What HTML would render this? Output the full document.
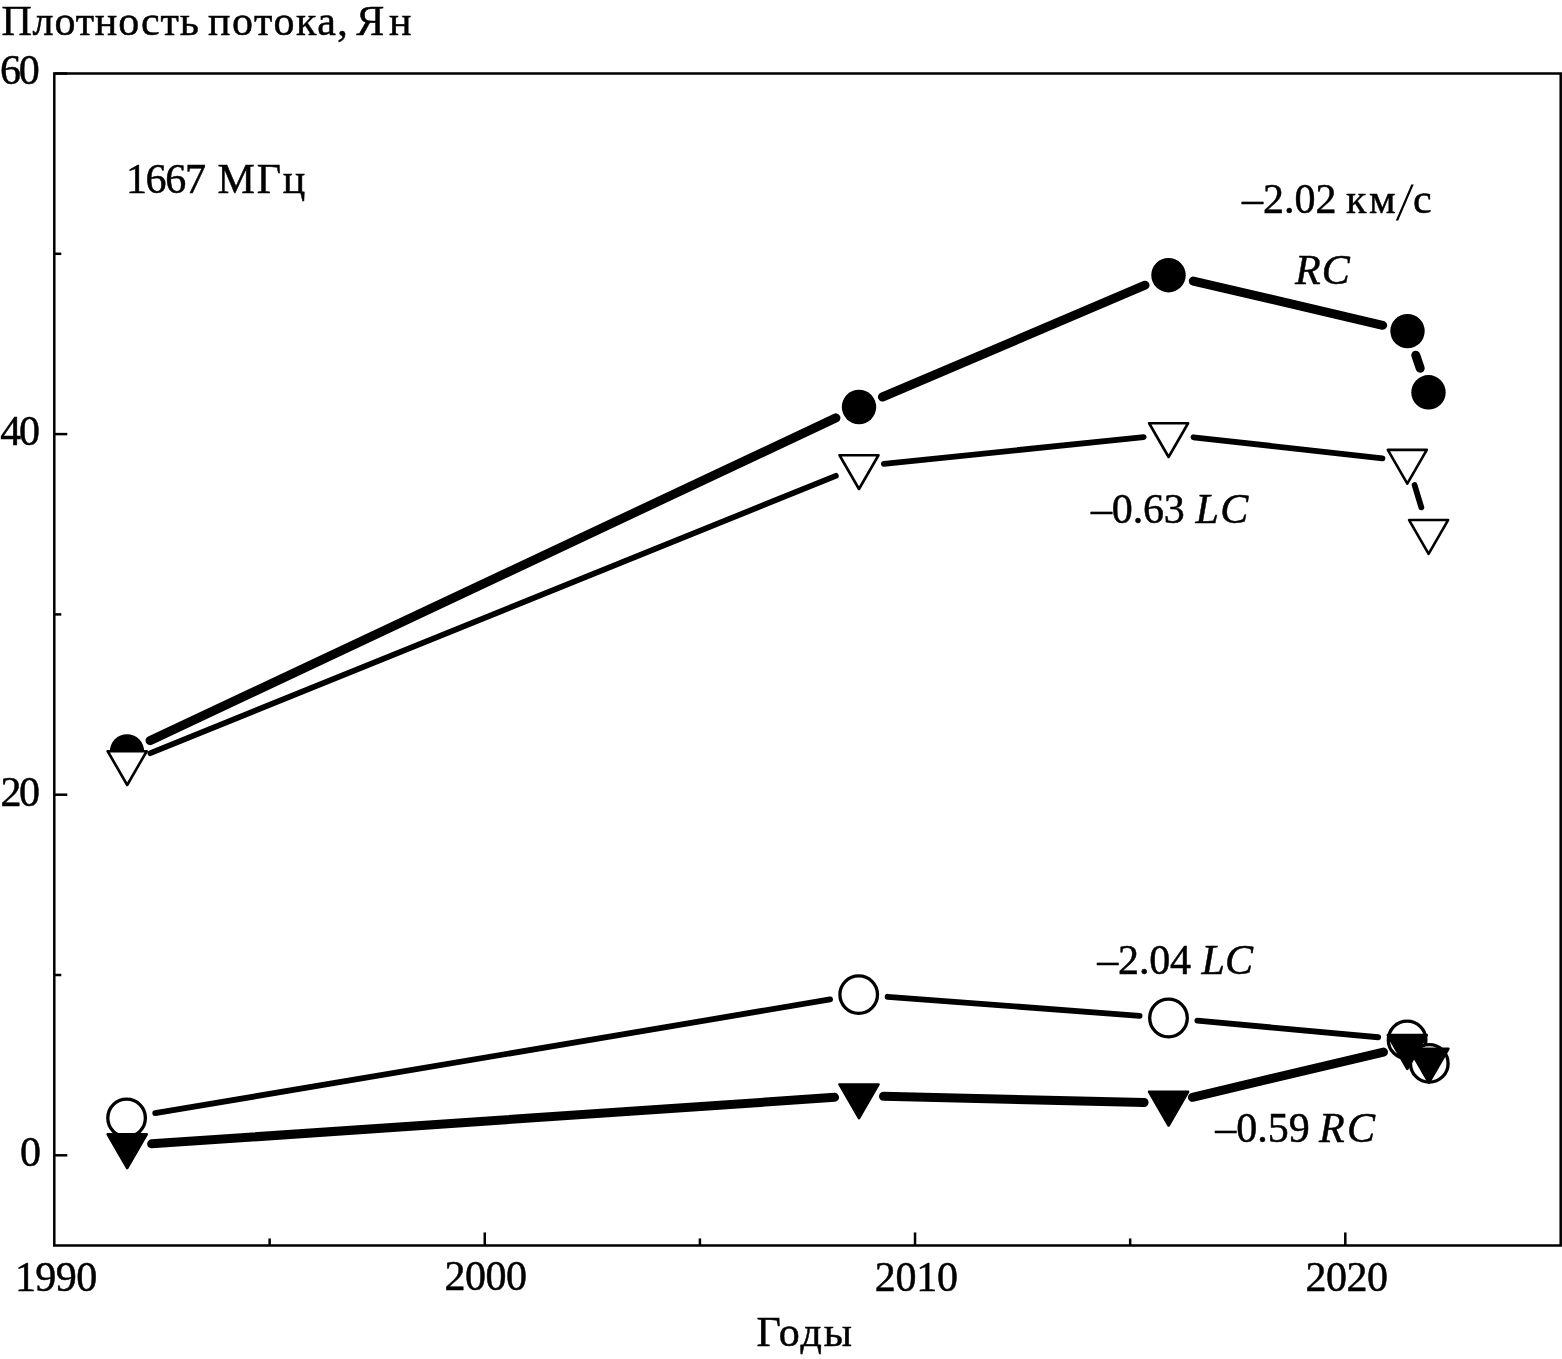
<!DOCTYPE html>
<html><head><meta charset="utf-8"><style>
html,body{margin:0;padding:0;background:#fff;}
svg{display:block;will-change:transform;}
text{font-family:"Liberation Serif",serif;font-size:42px;fill:#000;stroke:#000;stroke-width:0.5px;}
</style></head><body>
<svg width="1562" height="1359" viewBox="0 0 1562 1359">
<path d="M54.3,73.5 H1560.7 V1245.45 H54.3 Z" fill="none" stroke="#000" stroke-width="2.5"/>
<line x1="54.3" y1="1155.30" x2="67.3" y2="1155.30" stroke="#000" stroke-width="2.5"/>
<line x1="54.3" y1="794.70" x2="67.3" y2="794.70" stroke="#000" stroke-width="2.5"/>
<line x1="54.3" y1="434.10" x2="67.3" y2="434.10" stroke="#000" stroke-width="2.5"/>
<line x1="54.3" y1="73.50" x2="67.3" y2="73.50" stroke="#000" stroke-width="2.5"/>
<line x1="54.3" y1="975.00" x2="61.3" y2="975.00" stroke="#000" stroke-width="2.5"/>
<line x1="54.3" y1="614.40" x2="61.3" y2="614.40" stroke="#000" stroke-width="2.5"/>
<line x1="54.3" y1="253.80" x2="61.3" y2="253.80" stroke="#000" stroke-width="2.5"/>
<line x1="484.77" y1="1245.45" x2="484.77" y2="1232.45" stroke="#000" stroke-width="2.5"/>
<line x1="915.04" y1="1245.45" x2="915.04" y2="1232.45" stroke="#000" stroke-width="2.5"/>
<line x1="1345.31" y1="1245.45" x2="1345.31" y2="1232.45" stroke="#000" stroke-width="2.5"/>
<line x1="269.63" y1="1245.45" x2="269.63" y2="1238.45" stroke="#000" stroke-width="2.5"/>
<line x1="699.90" y1="1245.45" x2="699.90" y2="1238.45" stroke="#000" stroke-width="2.5"/>
<line x1="1130.17" y1="1245.45" x2="1130.17" y2="1238.45" stroke="#000" stroke-width="2.5"/>
<text x="1.40" y="35.0" textLength="197.52" lengthAdjust="spacing">Плотность</text>
<text x="208.10" y="35.0" textLength="139.74" lengthAdjust="spacing">потока,</text>
<text x="356.30" y="35.0" textLength="55.30" lengthAdjust="spacing">Ян</text>
<text x="0.10" y="84.0" textLength="39.60" lengthAdjust="spacing">60</text>
<text x="0.30" y="444.7" textLength="39.60" lengthAdjust="spacing">40</text>
<text x="0.50" y="805.6" textLength="39.60" lengthAdjust="spacing">20</text>
<text x="19.90" y="1165.7">0</text>
<text x="14.90" y="1290.8" textLength="82.40" lengthAdjust="spacing">1990</text>
<text x="444.60" y="1290.3" textLength="82.40" lengthAdjust="spacing">2000</text>
<text x="874.80" y="1290.8" textLength="83.20" lengthAdjust="spacing">2010</text>
<text x="1305.50" y="1291.0" textLength="82.40" lengthAdjust="spacing">2020</text>
<text x="756.40" y="1345.7" textLength="95.57" lengthAdjust="spacing">Годы</text>
<text x="125.90" y="192.8" textLength="80.00" lengthAdjust="spacing">1667</text>
<text x="217.60" y="192.8" textLength="87.71" lengthAdjust="spacing">МГц</text>
<text x="1242.00" y="213.0" textLength="94.50" lengthAdjust="spacing">–2.02</text>
<text x="1346.10" y="213.0" textLength="49.38" lengthAdjust="spacing">км</text>
<text x="1413.10" y="213.0">с</text>
<text x="1294.90" y="284.3" textLength="54.87" lengthAdjust="spacing"><tspan font-style="italic">RC</tspan></text>
<text x="1091.00" y="522.9" textLength="93.75" lengthAdjust="spacing">–0.63</text>
<text x="1195.60" y="522.9" textLength="52.57" lengthAdjust="spacing"><tspan font-style="italic">LC</tspan></text>
<text x="1097.30" y="973.8" textLength="93.75" lengthAdjust="spacing">–2.04</text>
<text x="1201.60" y="973.8" textLength="51.38" lengthAdjust="spacing"><tspan font-style="italic">LC</tspan></text>
<text x="1215.20" y="1142.0" textLength="94.50" lengthAdjust="spacing">–0.59</text>
<text x="1319.00" y="1142.0" textLength="56.07" lengthAdjust="spacing"><tspan font-style="italic">RC</tspan></text>
<polygon points="1411.3,184.4 1413.7,184.4 1398.2,220.6 1395.8,220.6" fill="#000"/>
<line x1="150.07" y1="740.64" x2="835.93" y2="417.86" stroke="#000" stroke-width="9.0" stroke-linecap="round"/>
<line x1="882.46" y1="397.01" x2="1145.04" y2="285.19" stroke="#000" stroke-width="9.0" stroke-linecap="round"/>
<line x1="1193.33" y1="281.01" x2="1382.67" y2="325.29" stroke="#000" stroke-width="9.0" stroke-linecap="round"/>
<line x1="1415.78" y1="355.22" x2="1420.22" y2="368.18" stroke="#000" stroke-width="9.0" stroke-linecap="round"/>
<circle cx="127.00" cy="751.50" r="17.2" fill="#000"/>
<circle cx="859.00" cy="407.00" r="17.2" fill="#000"/>
<circle cx="1168.50" cy="275.20" r="17.2" fill="#000"/>
<circle cx="1407.50" cy="331.10" r="17.2" fill="#000"/>
<circle cx="1428.50" cy="392.30" r="17.2" fill="#000"/>
<line x1="150.38" y1="753.13" x2="835.82" y2="475.87" stroke="#000" stroke-width="5.8" stroke-linecap="round"/>
<line x1="883.87" y1="463.93" x2="1143.73" y2="437.07" stroke="#000" stroke-width="5.8" stroke-linecap="round"/>
<line x1="1193.45" y1="437.27" x2="1382.45" y2="458.33" stroke="#000" stroke-width="5.8" stroke-linecap="round"/>
<line x1="1414.56" y1="485.02" x2="1421.34" y2="507.38" stroke="#000" stroke-width="5.8" stroke-linecap="round"/>
<polygon points="107.71,751.25 146.69,751.25 127.20,785.00" fill="#fff" stroke="#000" stroke-width="2.6" stroke-linejoin="round"/>
<polygon points="839.51,455.25 878.49,455.25 859.00,489.00" fill="#fff" stroke="#000" stroke-width="2.6" stroke-linejoin="round"/>
<polygon points="1149.11,423.25 1188.09,423.25 1168.60,457.00" fill="#fff" stroke="#000" stroke-width="2.6" stroke-linejoin="round"/>
<polygon points="1387.81,449.85 1426.79,449.85 1407.30,483.60" fill="#fff" stroke="#000" stroke-width="2.6" stroke-linejoin="round"/>
<polygon points="1409.11,520.05 1448.09,520.05 1428.60,553.80" fill="#fff" stroke="#000" stroke-width="2.6" stroke-linejoin="round"/>
<line x1="155.20" y1="1113.18" x2="830.10" y2="999.42" stroke="#000" stroke-width="5.8" stroke-linecap="round"/>
<line x1="887.62" y1="996.78" x2="1139.58" y2="1015.82" stroke="#000" stroke-width="5.8" stroke-linecap="round"/>
<line x1="1197.38" y1="1020.65" x2="1378.22" y2="1037.25" stroke="#000" stroke-width="5.8" stroke-linecap="round"/>
<circle cx="126.60" cy="1118.00" r="18.8" fill="#fff" stroke="#000" stroke-width="3.3"/>
<circle cx="858.70" cy="994.60" r="18.8" fill="#fff" stroke="#000" stroke-width="3.3"/>
<circle cx="1168.50" cy="1018.00" r="18.8" fill="#fff" stroke="#000" stroke-width="3.3"/>
<circle cx="1407.10" cy="1039.90" r="18.8" fill="#fff" stroke="#000" stroke-width="3.3"/>
<circle cx="1429.30" cy="1063.40" r="18.8" fill="#fff" stroke="#000" stroke-width="3.3"/>
<line x1="151.64" y1="1143.84" x2="834.56" y2="1097.36" stroke="#000" stroke-width="9.0" stroke-linecap="round"/>
<line x1="883.49" y1="1096.28" x2="1144.11" y2="1102.42" stroke="#000" stroke-width="9.0" stroke-linecap="round"/>
<line x1="1192.44" y1="1097.35" x2="1383.46" y2="1052.05" stroke="#000" stroke-width="9.0" stroke-linecap="round"/>
<polygon points="107.71,1134.25 146.69,1134.25 127.20,1168.00" fill="#000" stroke="#000" stroke-width="2.6" stroke-linejoin="round"/>
<polygon points="839.51,1084.45 878.49,1084.45 859.00,1118.20" fill="#000" stroke="#000" stroke-width="2.6" stroke-linejoin="round"/>
<polygon points="1149.11,1091.75 1188.09,1091.75 1168.60,1125.50" fill="#000" stroke="#000" stroke-width="2.6" stroke-linejoin="round"/>
<polygon points="1387.81,1035.15 1426.79,1035.15 1407.30,1068.90" fill="#000" stroke="#000" stroke-width="2.6" stroke-linejoin="round"/>
<polygon points="1409.41,1048.75 1448.39,1048.75 1428.90,1082.50" fill="#000" stroke="#000" stroke-width="2.6" stroke-linejoin="round"/>
</svg></body></html>
